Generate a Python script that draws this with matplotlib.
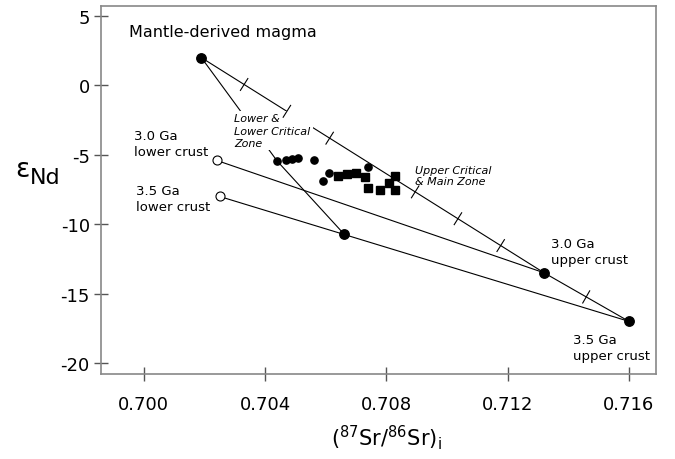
import numpy as np
import matplotlib
matplotlib.use('Agg')
import matplotlib.pyplot as plt

plt.rcParams['font.family'] = 'DejaVu Sans'
plt.rcParams['axes.unicode_minus'] = False

# end members: (87Sr/86Sr)i, eNd
mantle = (0.7019, 2.0)
lower30 = (0.7024, -5.4)
lower35 = (0.7025, -8.0)
upper30 = (0.7132, -13.5)
upper35 = (0.7160, -17.0)
lower_mix = (0.7066, -10.7)

# Lower & Lower Critical Zone
llcz_sr = [0.7044, 0.7047, 0.7049, 0.7051, 0.7056, 0.7061, 0.7059, 0.7074]
llcz_nd = [-5.45, -5.4, -5.3, -5.2, -5.4, -6.3, -6.9, -5.9]

# Upper Critical & Main Zone
ucmz_sr = [0.7064, 0.7067, 0.7070, 0.7073, 0.7074, 0.7078, 0.7081, 0.7083, 0.7083]
ucmz_nd = [-6.5, -6.4, -6.3, -6.6, -7.4, -7.5, -7.0, -6.55, -7.5]

# 10% steps along the mantle - upper crust mixing line
mix_ticks = [0.1, 0.2, 0.3, 0.5, 0.6, 0.7, 0.9]

xticks = [0.700, 0.704, 0.708, 0.712, 0.716]
yticks = [5, 0, -5, -10, -15, -20]

fig = plt.figure(figsize=(6.75, 4.6), dpi=100)
ax = fig.add_axes([0.1496, 0.1848, 0.8222, 0.8000])
ax.set_xlim(0.69859, 0.71689)
ax.set_ylim(-20.79, 5.72)

lw = 0.8
mix_x = [mantle[0], upper30[0], upper35[0]]
mix_y = [mantle[1], upper30[1], upper35[1]]
ax.plot(mix_x, mix_y, 'k-', lw=lw, zorder=2)
ax.plot([lower30[0], upper30[0]], [lower30[1], upper30[1]], 'k-', lw=lw, zorder=2)
ax.plot([lower35[0], upper35[0]], [lower35[1], upper35[1]], 'k-', lw=lw, zorder=2)
ax.plot([mantle[0], llcz_sr[0], lower_mix[0]], [mantle[1], llcz_nd[0], lower_mix[1]],
        'k-', lw=lw, zorder=2)

# little cross ticks on the mixing line
for f in mix_ticks:
    tx = mantle[0] + f * (upper35[0] - mantle[0])
    ty = np.interp(tx, mix_x, mix_y)
    i = 0 if tx < upper30[0] else 1
    p0 = ax.transData.transform((mix_x[i], mix_y[i]))
    p1 = ax.transData.transform((mix_x[i + 1], mix_y[i + 1]))
    d = (p1 - p0) / np.hypot(*(p1 - p0))
    n = np.array([-d[1], d[0]])
    c = ax.transData.transform((tx, ty))
    a, b = ax.transData.inverted().transform([c - 7 * n, c + 7 * n])
    ax.plot([a[0], b[0]], [a[1], b[1]], 'k-', lw=lw, zorder=4)

# end members
for p in [mantle, upper30, upper35, lower_mix]:
    ax.plot(p[0], p[1], 'o', color='black', ms=6.8, zorder=5)
for p in [lower30, lower35]:
    ax.plot(p[0], p[1], 'o', mfc='white', mec='black', mew=0.8, ms=6.5, zorder=5)

ax.plot(llcz_sr, llcz_nd, 'o', color='black', ms=5.2, ls='none', zorder=5)
ax.plot(ucmz_sr, ucmz_nd, 's', color='black', ms=5.4, ls='none', zorder=5)

ax.text(0.69953, 3.85, 'Mantle-derived magma', fontsize=11.5, va='center', ha='left')
ax.text(0.69969, -4.18, '3.0 Ga\nlower crust', fontsize=9.5, va='center', linespacing=1.3)
ax.text(0.69973, -8.17, '3.5 Ga\nlower crust', fontsize=9.5, va='center', linespacing=1.3)
ax.text(0.71342, -11.93, '3.0 Ga\nupper crust', fontsize=9.5, va='center', linespacing=1.3)
ax.text(0.71415, -18.91, '3.5 Ga\nupper crust', fontsize=9.5, va='center', linespacing=1.3)
ax.text(0.70299, -1.97, 'Lower &\nLower Critical\nZone', fontsize=8, style='italic',
        va='top', linespacing=1.35, zorder=3,
        bbox=dict(facecolor='white', edgecolor='none', pad=1.5))
ax.text(0.70893, -6.49, 'Upper Critical\n& Main Zone', fontsize=8, style='italic',
        va='center', linespacing=1.2)

ax.set_xticks(xticks)
ax.set_xticklabels(['%.3f' % v for v in xticks])
ax.set_yticks(yticks)
ax.set_yticklabels([str(v) for v in yticks])
ax.tick_params(direction='inout', length=10, width=1, color='#555555', labelsize=13)
ax.tick_params(axis='x', pad=10)
ax.tick_params(axis='y', pad=3)
for s in ax.spines.values():
    s.set_color('#888888')
    s.set_linewidth(1.2)

# y label: a large raised epsilon followed by Nd
fig.text(22 / 675, 1 - 170 / 460, 'ε', fontsize=19, ha='center', va='center')
fig.text(45 / 675, 1 - 178 / 460, 'Nd', fontsize=16, ha='center', va='center')
fig.text(386 / 675, 1 - 438 / 460, r'($\mathregular{^{87}}$Sr/$\mathregular{^{86}}$Sr)$\mathregular{_i}$',
         fontsize=15, ha='center', va='center')

fig.savefig('out.png', dpi=100)
